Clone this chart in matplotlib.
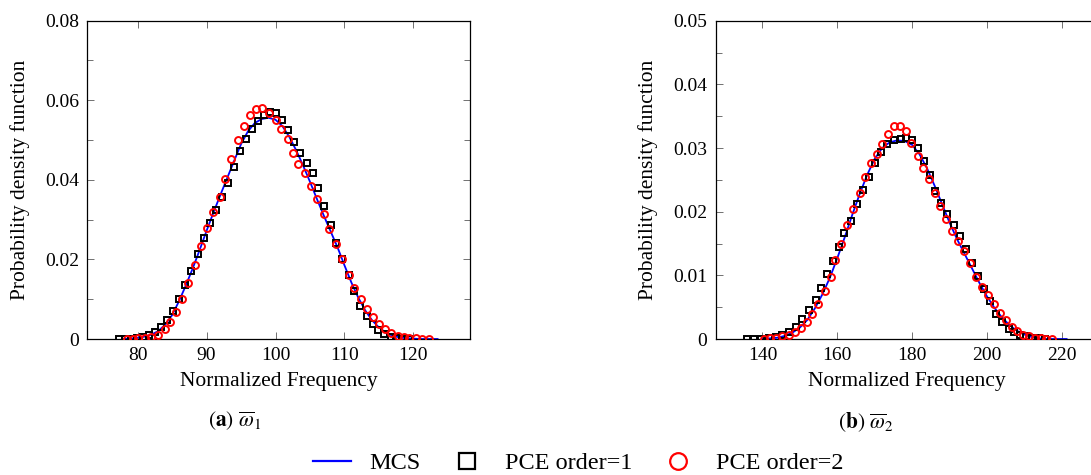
import matplotlib.pyplot as plt
from matplotlib.lines import Line2D
from matplotlib.ticker import MultipleLocator, FuncFormatter

plt.rcParams['font.family'] = ['Liberation Serif', 'DejaVu Serif']
plt.rcParams['mathtext.fontset'] = 'stix'

# (a) first normalized frequency
mcs1_x = [78, 79, 80, 81, 82, 83, 84, 85, 86, 87, 88, 89, 90, 91, 92, 93, 94, 95, 96, 97, 98, 99,
          100, 101, 102, 103, 104, 105, 106, 107, 108, 109, 110, 111, 112, 113, 114, 115, 116,
          117, 118, 119, 120, 121, 123.5]
mcs1_y = [0.0000, 0.0001, 0.0003, 0.0006, 0.0011, 0.0020, 0.0036, 0.0060, 0.0095, 0.0135, 0.0178,
          0.0224, 0.0272, 0.0318, 0.0362, 0.0405, 0.0448, 0.0490, 0.0522, 0.0543, 0.0553, 0.0556,
          0.0551, 0.0535, 0.0508, 0.0474, 0.0436, 0.0395, 0.0352, 0.0310, 0.0270, 0.0230, 0.0185,
          0.0142, 0.0104, 0.0072, 0.0047, 0.0029, 0.0016, 0.0008, 0.0004, 0.0002, 0.0001, 0.0000,
          0.0000]
pce1_a_x = [77.3, 78.2, 79.0, 79.9, 80.8, 81.6, 82.5, 83.4, 84.3, 85.2, 86.0, 86.9, 87.8, 88.7, 89.6,
            90.5, 91.3, 92.2, 93.1, 94.0, 94.9, 95.7, 96.6, 97.5, 98.3, 99.2, 100.1, 100.9, 101.8,
            102.7, 103.6, 104.5, 105.4, 106.2, 107.1, 108.0, 108.8, 109.7, 110.6, 111.4, 112.3,
            113.2, 114.1, 114.9, 115.8, 116.7, 117.5, 118.4, 119.3]
pce1_a_y = [0.0000, 0.0000, 0.0001, 0.0002, 0.0004, 0.0009, 0.0017, 0.0030, 0.0047, 0.0070, 0.0100,
            0.0135, 0.0172, 0.0213, 0.0253, 0.0292, 0.0324, 0.0358, 0.0391, 0.0433, 0.0473, 0.0503,
            0.0527, 0.0549, 0.0562, 0.0570, 0.0567, 0.0550, 0.0525, 0.0495, 0.0467, 0.0443, 0.0416,
            0.0380, 0.0334, 0.0286, 0.0242, 0.0200, 0.0160, 0.0121, 0.0083, 0.0058, 0.0038, 0.0022,
            0.0012, 0.0006, 0.0003, 0.0001, 0.0000]
pce2_a_x = [78.5, 79.3, 80.1, 81.1, 82.0, 83.0, 83.9, 84.7, 85.6, 86.4, 87.3, 88.3, 89.2, 90.1, 90.9,
            91.9, 92.7, 93.6, 94.5, 95.4, 96.3, 97.2, 98.1, 99.0, 100.0, 100.8, 101.8, 102.5,
            103.3, 104.2, 105.1, 106.0, 107.0, 107.8, 108.8, 109.7, 110.6, 111.4, 112.4, 113.2,
            114.1, 115.0, 115.9, 116.8, 117.7, 118.6, 119.4, 120.3, 121.2, 122.2]
pce2_a_y = [0.0000, 0.0001, 0.0002, 0.0003, 0.0005, 0.0011, 0.0024, 0.0044, 0.0069, 0.0101, 0.0140,
            0.0187, 0.0233, 0.0278, 0.0320, 0.0358, 0.0401, 0.0452, 0.0500, 0.0535, 0.0562, 0.0579,
            0.0581, 0.0569, 0.0550, 0.0529, 0.0502, 0.0468, 0.0440, 0.0416, 0.0384, 0.0351, 0.0314,
            0.0276, 0.0238, 0.0200, 0.0161, 0.0127, 0.0100, 0.0075, 0.0055, 0.0038, 0.0024, 0.0014,
            0.0008, 0.0005, 0.0003, 0.0002, 0.0001, 0.0001]

# (b) second normalized frequency
mcs2_x = [140, 144, 146, 148, 150, 152, 154, 156, 158, 160, 162, 164, 166, 168, 170, 172, 174, 176,
          178, 180, 182, 184, 186, 188, 190, 192, 194, 196, 198, 200, 202, 204, 206, 208, 210, 212,
          214, 216, 221.3]
mcs2_y = [0.0000, 0.0002, 0.0005, 0.0010, 0.0018, 0.0030, 0.0048, 0.0070, 0.0096, 0.0127, 0.0160,
          0.0195, 0.0228, 0.0258, 0.0283, 0.0300, 0.0309, 0.0312, 0.0311, 0.0305, 0.0290, 0.0268,
          0.0241, 0.0212, 0.0183, 0.0157, 0.0134, 0.0111, 0.0088, 0.0067, 0.0049, 0.0034, 0.0022,
          0.0013, 0.0007, 0.0003, 0.0001, 0.0000, 0.0000]
pce1_b_x = [136.0, 137.8, 139.5, 141.8, 143.5, 145.3, 147.1, 148.9, 150.7, 152.4, 154.2, 155.6,
            157.3, 158.9, 160.4, 161.9, 163.7, 165.3, 166.9, 168.4, 170.2, 171.8, 173.3, 175.1,
            176.9, 178.5, 180.0, 181.5, 183.3, 184.8, 186.2, 187.7, 189.4, 191.1, 192.7, 194.4,
            196.0, 197.7, 199.1, 200.9, 202.5, 204.0, 205.8, 207.3, 208.9, 210.5, 212.0, 213.8,
            215.6]
pce1_b_y = [0.0000, 0.0000, 0.0000, 0.0001, 0.0003, 0.0006, 0.0011, 0.0019, 0.0031, 0.0046, 0.0061,
            0.0080, 0.0102, 0.0123, 0.0145, 0.0166, 0.0186, 0.0212, 0.0234, 0.0255, 0.0276, 0.0294,
            0.0307, 0.0313, 0.0314, 0.0315, 0.0313, 0.0300, 0.0279, 0.0258, 0.0233, 0.0213, 0.0197,
            0.0179, 0.0162, 0.0141, 0.0119, 0.0099, 0.0078, 0.0059, 0.0040, 0.0026, 0.0016, 0.0011,
            0.0007, 0.0004, 0.0002, 0.0001, 0.0000]
pce2_b_x = [140.4, 142.0, 143.5, 145.3, 147.1, 148.6, 150.2, 151.8, 153.3, 154.8, 156.6, 158.2,
            159.5, 161.1, 162.7, 164.3, 166.0, 167.4, 168.9, 170.5, 172.0, 173.6, 175.1, 176.7,
            178.3, 179.8, 181.5, 182.9, 184.6, 186.0, 187.5, 189.1, 190.6, 192.4, 193.9, 195.5,
            197.1, 198.7, 200.4, 201.9, 203.5, 205.0, 206.6, 208.1, 209.7, 211.3, 212.8, 214.4,
            215.9, 217.5]
pce2_b_y = [0.0000, 0.0001, 0.0002, 0.0004, 0.0007, 0.0011, 0.0017, 0.0027, 0.0040, 0.0055, 0.0075,
            0.0097, 0.0124, 0.0150, 0.0179, 0.0205, 0.0230, 0.0255, 0.0276, 0.0291, 0.0306, 0.0322,
            0.0334, 0.0335, 0.0326, 0.0308, 0.0288, 0.0268, 0.0251, 0.0230, 0.0209, 0.0188, 0.0170,
            0.0154, 0.0138, 0.0119, 0.0098, 0.0082, 0.0069, 0.0055, 0.0041, 0.0030, 0.0019, 0.0013,
            0.0007, 0.0004, 0.0002, 0.0001, 0.0000, 0.0000]

panels = [
    (mcs1_x, mcs1_y, pce1_a_x, pce1_a_y, pce2_a_x, pce2_a_y,
     (72.7, 128.2), (0, 0.08), 10, 0.02, 0.01, r'$(\mathbf{a})\ \overline{\omega}_1$', 235),
    (mcs2_x, mcs2_y, pce1_b_x, pce1_b_y, pce2_b_x, pce2_b_y,
     (127.5, 229.8), (0, 0.05), 20, 0.01, 0.005, r'$(\mathbf{b})\ \overline{\omega}_2$', 866),
]

fig = plt.figure(figsize=(10.91, 4.75), dpi=100)
lefts = [0.0800, 0.6560]

for left, p in zip(lefts, panels):
    mx, my, ax1, ay1, ax2, ay2, xl, yl, xmaj, ymaj, ymin, cap, capx = p
    ax = fig.add_axes([left, 0.2863, 0.3508, 0.6701])
    ax.plot(mx, my, color='#0000ff', lw=1.3, zorder=2)
    ax.plot(ax1, ay1, ls='none', marker='s', ms=5, mfc='none', mec='black', mew=1.4, zorder=3)
    ax.plot(ax2, ay2, ls='none', marker='o', ms=5, mfc='none', mec='#ff0000', mew=1.4, zorder=4)
    ax.set_xlim(*xl)
    ax.set_ylim(*yl)
    ax.xaxis.set_major_locator(MultipleLocator(xmaj))
    ax.yaxis.set_major_locator(MultipleLocator(ymaj))
    ax.yaxis.set_minor_locator(MultipleLocator(ymin))
    ax.yaxis.set_major_formatter(FuncFormatter(lambda v, pos: '0' if abs(v) < 1e-12 else f'{v:.2f}'))
    ax.tick_params(which='both', direction='in', top=True, right=True, width=0.6, color='0.35',
                   labelsize=14, pad=6)
    ax.tick_params(which='major', length=5)
    ax.tick_params(which='minor', length=4)
    for s in ax.spines.values():
        s.set_linewidth(0.9)
    ax.set_xlabel('Normalized Frequency', fontsize=15.5, va='center')
    ax.set_ylabel('Probability density function', fontsize=15.5, va='center')
    ax.xaxis.set_label_coords(0.5, -0.134)
    ax.yaxis.set_label_coords(-0.176, 0.5)
    fig.text(capx / 1091, 1 - 421.7 / 475, cap, fontsize=15.5, ha='center', va='center')

handles = [
    Line2D([], [], color='#0000ff', lw=1.6),
    Line2D([], [], ls='none', marker='s', ms=12, mfc='none', mec='black', mew=1.6),
    Line2D([], [], ls='none', marker='o', ms=12, mfc='none', mec='#ff0000', mew=1.6),
]
fig.legend(handles, ['MCS', 'PCE order=1', 'PCE order=2'], loc='center',
           bbox_to_anchor=(578 / 1091, 1 - 463 / 475), ncol=3, frameon=False, fontsize=17.5,
           handlelength=1.6, handletextpad=0.75, columnspacing=1.1, borderpad=0)

fig.savefig('out.png', dpi=100)
